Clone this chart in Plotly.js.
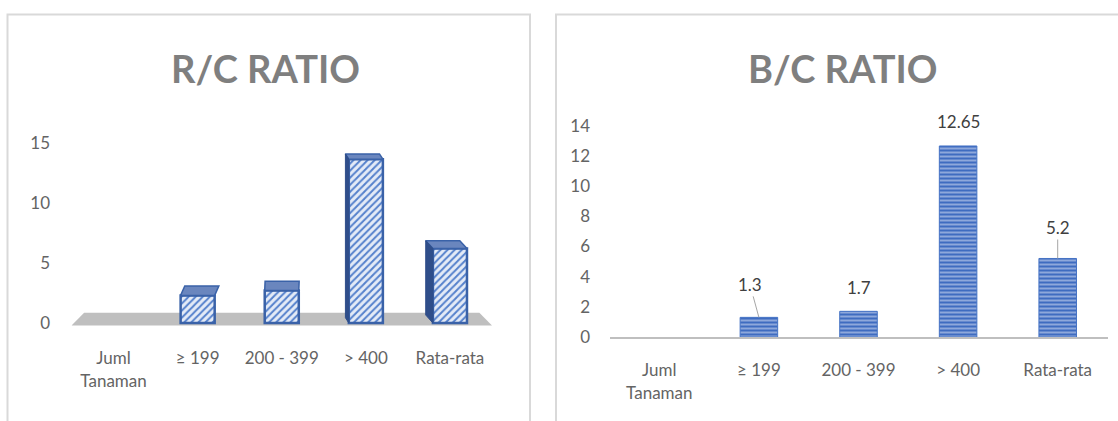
<!DOCTYPE html>
<html><head><meta charset="utf-8">
<script src="https://cdn.plot.ly/plotly-3.0.1.min.js"></script>
<style>html,body{margin:0;padding:0;background:#fff;} #chart{width:1118px;height:421px;}</style>
</head><body><div id="chart"></div>
<script>
// ---- data ----
const categories = ['Juml<br>Tanaman', '≥ 199', '200 - 399', '> 400', 'Rata-rata'];
const rcValues = [null, 2.3, 2.7, 13.65, 6.2];
const bcValues = [null, 1.3, 1.7, 12.65, 5.2];
const bcLabels = ['', '1.3', '1.7', '12.65', '5.2'];
const rcTicks = [0, 5, 10, 15];
const bcTicks = [0, 2, 4, 6, 8, 10, 12, 14];
const chartTitles = ['R/C RATIO', 'B/C RATIO'];

// ---- helpers / styles ----
const W = 1118, H = 421;
const px = x => x / W, py = y => 1 - y / H;
const idx = categories.map((c, i) => i);
const FONT = 'Lato, "Open Sans", sans-serif';
const TICKCOL = '#646464';
const CLEAR = 'rgba(0,0,0,0)';
const wL = 0.405, wR = 0.377;

const traces = [];
// Left chart: front faces with diagonal hatch
traces.push({
  type: 'bar', x: idx, y: rcValues, width: wL, xaxis: 'x', yaxis: 'y',
  marker: {color: '#dae3f3', pattern: {shape: '/', fgcolor: '#5581cc', bgcolor: '#e4ebf7', size: 5, solidity: 0.4},
           line: {color: '#3a62a8', width: 2.5}},
  hoverinfo: 'skip', showlegend: false
});
// pseudo-3D top and side faces, derived from the values
rcValues.forEach((v, i) => {
  if (v == null) return;
  const dx = (2.1 - i) * 0.045;
  const dy = 0.85 - 0.03 * v;
  const l = i - wL / 2, r = i + wL / 2;
  traces.push({type: 'scatter', mode: 'lines', x: [l, r, r + dx, l + dx, l], y: [v, v, v + dy, v + dy, v],
    fill: 'toself', fillcolor: '#6a86be', line: {color: '#3a62a8', width: 1.5},
    xaxis: 'x', yaxis: 'y', hoverinfo: 'skip', showlegend: false});
  if (dx < 0) {
    traces.push({type: 'scatter', mode: 'lines', x: [l, l, l + dx, l + dx, l], y: [0, v, v + dy, dy, 0],
      fill: 'toself', fillcolor: '#2f4e8a', line: {color: '#2f4e8a', width: 1},
      xaxis: 'x', yaxis: 'y', hoverinfo: 'skip', showlegend: false});
  }
});
// Right chart: horizontal stripes
traces.push({
  type: 'bar', x: idx, y: bcValues, width: wR, xaxis: 'x2', yaxis: 'y2',
  marker: {color: '#4472c4', pattern: {shape: '-', fgcolor: '#c3d1ee', bgcolor: '#3f6cc0', size: 4, solidity: 0.3},
           line: {color: '#4472c4', width: 1}},
  hoverinfo: 'skip', showlegend: false
});

const annotations = [];
chartTitles.forEach((t, k) => {
  annotations.push({text: t, xref: 'paper', yref: 'paper', x: px(k === 0 ? 265 : 843), y: py(68),
    showarrow: false, xanchor: 'center', yanchor: 'middle',
    font: {family: FONT, size: 38, color: '#7f7f7f', weight: 'bold'}});
});
const leader = {1: [-9, -33], 4: [0, -31]};
bcValues.forEach((v, i) => {
  if (v == null) return;
  const a = {text: bcLabels[i], xref: 'x2', yref: 'y2', x: i, y: v,
    font: {family: FONT, size: 17, color: '#404040'}};
  if (leader[i]) {
    Object.assign(a, {showarrow: true, arrowhead: 0, arrowwidth: 1, arrowcolor: '#a6a6a6',
      ax: leader[i][0], ay: leader[i][1], standoff: 0});
  } else {
    Object.assign(a, {showarrow: false, yanchor: 'middle', yshift: 24});
  }
  annotations.push(a);
});

const tickfont = {family: FONT, size: 17, color: TICKCOL};
const layout = {
  width: W, height: H, margin: {l: 0, r: 0, t: 0, b: 0},
  paper_bgcolor: '#fff', plot_bgcolor: 'rgba(0,0,0,0)', showlegend: false,
  xaxis: {domain: [px(71.5), px(492)], range: [-0.5, 4.5], tickvals: idx, ticktext: categories,
    showgrid: false, zeroline: false, showline: false, ticks: 'outside', ticklen: 14, tickcolor: CLEAR,
    tickfont: tickfont, anchor: 'y', fixedrange: true},
  yaxis: {domain: [py(329), py(131)], range: [-0.5, 16], tickvals: rcTicks,
    showgrid: false, zeroline: false, showline: false, ticks: 'outside', ticklen: 17, tickcolor: CLEAR,
    tickfont: tickfont, anchor: 'x', fixedrange: true},
  xaxis2: {domain: [px(609.5), px(1107.5)], range: [-0.5, 4.5], tickvals: idx, ticktext: categories,
    showgrid: false, zeroline: false, showline: true, linecolor: '#bfbfbf', linewidth: 2,
    ticks: 'outside', ticklen: 17, tickcolor: CLEAR, tickfont: tickfont, anchor: 'y2', fixedrange: true},
  yaxis2: {domain: [py(337), py(110.5)], range: [0, 15], tickvals: bcTicks,
    showgrid: false, zeroline: false, showline: false, ticks: 'outside', ticklen: 15, tickcolor: CLEAR,
    tickfont: tickfont, anchor: 'x2', fixedrange: true},
  shapes: [
    {type: 'path', xref: 'x', yref: 'y', layer: 'below', path: 'M -0.5,-0.2 L 4.5,-0.2 L 4.35,0.85 L -0.35,0.85 Z',
      fillcolor: '#bfbfbf', line: {width: 0}},
    {type: 'rect', xref: 'paper', yref: 'paper', x0: px(7.5), x1: px(530), y0: -0.1, y1: py(14.5),
      line: {color: '#d9d9d9', width: 2}, fillcolor: CLEAR, layer: 'below'},
    {type: 'rect', xref: 'paper', yref: 'paper', x0: px(556), x1: 1.1, y0: -0.1, y1: py(14.5),
      line: {color: '#d9d9d9', width: 2}, fillcolor: CLEAR, layer: 'below'}
  ],
  annotations: annotations
};
Plotly.newPlot('chart', traces, layout, {displayModeBar: false, staticPlot: true});
</script>
</body></html>
